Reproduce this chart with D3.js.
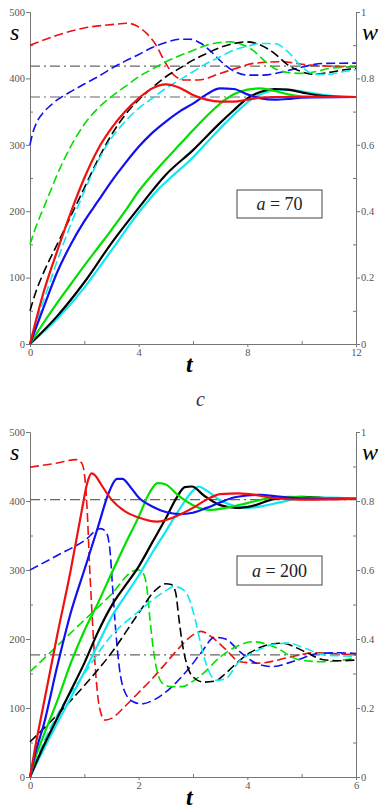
<!DOCTYPE html>
<html>
<head>
<meta charset="utf-8">
<script src="https://cdn.jsdelivr.net/npm/d3@7"></script>
<style>
  body { margin: 0; background: #fff; }
  svg { display: block; }
  svg text { font-family: "Liberation Serif", "Times New Roman", "DejaVu Serif", serif; }
</style>
</head>
<body>
<div id="chart"></div>
<script>
// --------------------------------------
//  Data (s on left axis, w on right axis)
// --------------------------------------

// a = 70
const sLevel70 = 372, wLevel70 = 0.837;
const sRed70   = [[0,0],[0.5,78],[1,140],[1.5,198],[2,250],[2.5,293],[3,325],[3.5,350],[4,370],[4.5,385],[5,391],[5.5,386],[6,375],[6.5,368],[7,365],[7.5,365],[8,368],[8.5,371],[9,372],[10.5,372],[12,372]];
const sBlue70  = [[0,0],[0.5,55],[1,108],[1.5,150],[2,185],[2.5,215],[3,245],[3.5,272],[4,297],[4.5,318],[5,335],[5.5,350],[6,362],[6.5,376],[7,385],[7.5,384],[8,376],[8.5,370],[9,368],[9.5,369],[10,371],[12,372]];
const sGreen70 = [[0,0],[0.5,32],[1,62],[1.5,90],[2,118],[2.5,145],[3,172],[3.5,200],[4,230],[4.5,255],[5,278],[5.5,300],[6,322],[6.5,343],[7,362],[7.5,376],[8,383],[8.5,385],[9,381],[9.5,376],[10,373],[12,372]];
const sBlack70 = [[0,0],[1,42],[2,93],[3,152],[4,205],[5,255],[6,292],[7,333],[7.5,352],[8,370],[8.5,380],[9,384],[9.5,383],[10,379],[10.5,375],[11,373],[12,372]];
const sCyan70  = [[0,0],[1,38],[2,85],[3,141],[4,198],[4.7,232],[5.3,255],[5.9,277],[6.5,303],[7.2,333],[7.7,353],[8.1,367],[8.6,378],[9.2,383],[9.7,382],[10.5,377],[11.3,373],[12,372]];

const wRed70   = [[0,0.9],[1,0.93],[2,0.952],[3,0.962],[3.6,0.966],[4,0.955],[4.3,0.935],[4.6,0.905],[5,0.845],[5.3,0.81],[5.7,0.795],[6.2,0.795],[7,0.815],[7.5,0.828],[8.3,0.846],[9.2,0.85],[10.3,0.84],[12,0.835]];
const wBlue70  = [[0,0.6],[0.1,0.635],[0.25,0.668],[0.5,0.698],[0.75,0.718],[1,0.735],[1.5,0.76],[2,0.783],[2.5,0.805],[3,0.83],[3.5,0.852],[4,0.872],[4.5,0.893],[5,0.908],[5.5,0.918],[5.9,0.918],[6.3,0.905],[6.7,0.878],[7.1,0.846],[7.5,0.822],[8,0.81],[8.6,0.81],[9.2,0.818],[9.8,0.83],[10.8,0.845],[12,0.846]];
const wGreen70 = [[0,0.3],[0.25,0.36],[0.5,0.41],[0.75,0.46],[1,0.51],[1.5,0.595],[2,0.662],[2.5,0.71],[3,0.745],[3.5,0.775],[4,0.805],[4.5,0.828],[5,0.85],[5.5,0.868],[6,0.884],[6.5,0.9],[7,0.908],[7.4,0.91],[7.8,0.902],[8.2,0.885],[8.6,0.855],[9,0.83],[9.5,0.818],[10,0.815],[10.5,0.82],[11,0.83],[12,0.835]];
const wBlack70 = [[0,0.1],[0.25,0.165],[0.5,0.215],[1,0.3],[1.5,0.385],[2,0.47],[2.5,0.555],[3,0.63],[3.5,0.69],[4,0.735],[4.5,0.772],[5,0.805],[5.5,0.83],[6,0.855],[6.5,0.875],[7,0.893],[7.5,0.905],[8,0.91],[8.5,0.9],[9,0.875],[9.5,0.84],[10,0.82],[10.4,0.813],[11,0.818],[11.5,0.825],[12,0.83]];
const wCyan70  = [[0,0],[0.25,0.07],[0.5,0.13],[1,0.25],[1.5,0.36],[2,0.46],[2.5,0.55],[3,0.62],[3.5,0.67],[4,0.71],[4.5,0.74],[5,0.77],[5.5,0.795],[6,0.82],[6.5,0.845],[7,0.865],[7.5,0.885],[8,0.897],[8.5,0.905],[9,0.905],[9.5,0.88],[10,0.835],[10.5,0.812],[11,0.812],[11.5,0.82],[12,0.826]];

// a = 200
const sLevel200 = 402, wLevel200 = 0.354;
const sRed200   = [[0,0],[0.1,45],[0.25,105],[0.5,205],[0.75,300],[0.95,385],[1.05,425],[1.13,440],[1.2,437],[1.3,425],[1.5,402],[1.75,385],[2,376],[2.33,370],[2.75,380],[3,390],[3.25,402],[3.5,410],[3.85,411],[4.2,408],[4.5,404],[5,402],[6,403]];
const sBlue200  = [[0,0],[0.1,35],[0.25,75],[0.5,160],[0.75,238],[1,300],[1.25,362],[1.45,412],[1.6,432],[1.7,432],[1.85,420],[2,405],[2.25,392],[2.5,384],[2.75,381],[3,383],[3.25,390],[3.5,398],[3.75,405],[4,408],[4.25,409],[4.5,407],[5,404],[6,403]];
const sGreen200 = [[0,0],[0.1,28],[0.25,60],[0.5,110],[0.75,165],[1,212],[1.25,252],[1.5,295],[1.75,337],[2,377],[2.2,412],[2.35,426],[2.5,424],[2.7,410],[3,394],[3.3,387],[3.6,390],[4,397],[4.4,404],[4.8,406],[5.2,405],[6,403]];
const sBlack200 = [[0,0],[0.25,45],[0.5,85],[0.75,125],[1,165],[1.25,210],[1.5,248],[1.75,277],[2,305],[2.25,340],[2.5,375],[2.7,405],[2.85,420],[2.98,421],[3.2,408],[3.5,394],[3.8,390],[4.1,393],[4.5,403],[5,406],[5.5,404],[6,403]];
const sCyan200  = [[0,0],[0.25,40],[0.5,78],[0.75,115],[1,152],[1.25,192],[1.5,232],[1.75,262],[2,292],[2.25,325],[2.5,356],[2.75,388],[3,415],[3.1,421],[3.25,415],[3.5,401],[3.75,393],[4,390],[4.3,393],[4.6,398],[5,404],[5.5,405],[6,403]];

const wRed200   = [[0,0.898],[0.5,0.91],[0.85,0.92],[0.95,0.91],[1,0.88],[1.05,0.78],[1.1,0.6],[1.15,0.45],[1.2,0.32],[1.28,0.2],[1.38,0.165],[1.5,0.17],[1.75,0.205],[2,0.245],[2.25,0.285],[2.5,0.33],[2.75,0.375],[3,0.412],[3.15,0.422],[3.35,0.405],[3.6,0.37],[3.85,0.335],[4.2,0.33],[4.8,0.348],[5.2,0.36],[5.6,0.358],[6,0.354]];
const wBlue200  = [[0,0.6],[0.5,0.642],[1,0.685],[1.3,0.72],[1.4,0.71],[1.47,0.66],[1.52,0.55],[1.58,0.42],[1.65,0.31],[1.75,0.245],[1.9,0.218],[2.05,0.212],[2.3,0.225],[2.6,0.26],[2.9,0.31],[3.15,0.36],[3.4,0.405],[3.6,0.4],[3.85,0.365],[4.1,0.335],[4.45,0.32],[4.9,0.338],[5.3,0.358],[5.7,0.36],[6,0.358]];
const wGreen200 = [[0,0.305],[1,0.455],[1.5,0.53],[1.9,0.597],[2,0.6],[2.1,0.585],[2.15,0.55],[2.2,0.47],[2.27,0.37],[2.35,0.3],[2.45,0.27],[2.6,0.262],[2.8,0.262],[3,0.278],[3.2,0.302],[3.5,0.348],[3.8,0.378],[4.1,0.392],[4.5,0.377],[4.95,0.34],[5.4,0.334],[6,0.345]];
const wBlack200 = [[0,0.102],[0.5,0.18],[1,0.265],[1.5,0.36],[2,0.475],[2.3,0.54],[2.5,0.56],[2.6,0.558],[2.68,0.535],[2.74,0.46],[2.8,0.39],[2.88,0.33],[3,0.29],[3.2,0.275],[3.4,0.278],[3.6,0.3],[3.8,0.33],[4.05,0.36],[4.35,0.382],[4.65,0.388],[4.9,0.375],[5.1,0.36],[5.4,0.34],[5.7,0.337],[6,0.339]];
const wCyan200  = [[0,0],[0.25,0.1],[0.5,0.18],[1,0.3],[1.5,0.41],[2,0.48],[2.5,0.54],[2.65,0.552],[2.8,0.545],[2.92,0.52],[3.05,0.45],[3.15,0.38],[3.27,0.315],[3.42,0.28],[3.6,0.285],[3.85,0.335],[4.1,0.36],[4.45,0.383],[4.75,0.388],[5.05,0.374],[5.4,0.354],[6,0.35]];

const sTicks = [0, 100, 200, 300, 400, 500];
const sMinor = [50, 150, 250, 350, 450];
const wTicks = [0, 0.2, 0.4, 0.6, 0.8, 1];
const wMinor = [0.1, 0.3, 0.5, 0.7, 0.9];

const colors = {red: "#f01010", blue: "#1010f0", green: "#00e000", black: "#000000", cyan: "#10e8f0"};

// --------------------------------------
//  Canvas
// --------------------------------------

const width = 389, height = 812;
const svg = d3.select("#chart").append("svg")
    .attr("width", width).attr("height", height)
    .attr("viewBox", `0 0 ${width} ${height}`);

const serif = '"Liberation Serif", "Times New Roman", "DejaVu Serif", serif';

const panels = [
  { tMax: 12, tTicks: [0, 4, 8, 12], tMinor: [2, 6, 10], yBot: 344, yTop: 12,
    sLevel: sLevel70, wLevel: wLevel70, label: "70", box: {x: 237, y: 190, w: 85, h: 28},
    s: [["red", sRed70], ["blue", sBlue70], ["green", sGreen70], ["black", sBlack70], ["cyan", sCyan70]],
    w: [["red", wRed70], ["blue", wBlue70], ["green", wGreen70], ["black", wBlack70], ["cyan", wCyan70]] },
  { tMax: 6, tTicks: [0, 2, 4, 6], tMinor: [1, 3, 5], yBot: 777, yTop: 432,
    sLevel: sLevel200, wLevel: wLevel200, label: "200", box: {x: 237, y: 556, w: 85, h: 29},
    s: [["red", sRed200], ["blue", sBlue200], ["green", sGreen200], ["black", sBlack200], ["cyan", sCyan200]],
    w: [["red", wRed200], ["blue", wBlue200], ["green", wGreen200], ["black", wBlack200], ["cyan", wCyan200]] }
];

function styleAxis(sel) {
  sel.attr("font-family", null).attr("font-size", 10.5);
  sel.selectAll("text").style("font-family", serif).attr("fill", "#555");
  sel.selectAll("line").attr("stroke", "#777");
  sel.select(".domain").attr("stroke", "#777");
}

function drawPanel(p) {
  const g = svg.append("g");

  const x = d3.scaleLinear().domain([0, p.tMax]).range([30, 356]);
  const yS = d3.scaleLinear().domain([0, 500]).range([p.yBot, p.yTop]);
  const yW = d3.scaleLinear().domain([0, 1]).range([p.yBot, p.yTop]);

  // axes
  g.append("g").attr("transform", `translate(30,0)`)
    .call(d3.axisLeft(yS).tickValues(sTicks).tickSize(4).tickSizeOuter(0).tickPadding(1))
    .call(styleAxis);
  g.append("g").attr("transform", `translate(30,0)`)
    .call(d3.axisLeft(yS).tickValues(sMinor).tickSize(-3).tickSizeOuter(0).tickFormat(""))
    .call(styleAxis);

  g.append("g").attr("transform", `translate(356,0)`)
    .call(d3.axisRight(yW).tickValues(wTicks).tickSize(4).tickSizeOuter(0).tickPadding(1)
      .tickFormat(d => (d === 0 || d === 1) ? d3.format("d")(d) : d3.format(".1f")(d)))
    .call(styleAxis);
  g.append("g").attr("transform", `translate(356,0)`)
    .call(d3.axisRight(yW).tickValues(wMinor).tickSize(-3).tickSizeOuter(0).tickFormat(""))
    .call(styleAxis);

  g.append("g").attr("transform", `translate(0,${p.yBot})`)
    .call(d3.axisBottom(x).tickValues(p.tTicks).tickSize(3).tickSizeOuter(0).tickPadding(2)
      .tickFormat(d3.format("d")))
    .call(styleAxis);
  g.append("g").attr("transform", `translate(0,${p.yBot})`)
    .call(d3.axisBottom(x).tickValues(p.tMinor).tickSize(-3).tickSizeOuter(0).tickFormat(""))
    .call(styleAxis);

  // steady levels
  [yS(p.sLevel), yW(p.wLevel)].forEach(yy => {
    g.append("line")
      .attr("x1", x(0)).attr("x2", x(p.tMax))
      .attr("y1", yy).attr("y2", yy)
      .attr("stroke", "#666").attr("stroke-width", 1.2)
      .attr("stroke-dasharray", "10,4,2,4");
  });

  const lineS = d3.line().x(d => x(d[0])).y(d => yS(d[1])).curve(d3.curveMonotoneX);
  const lineW = d3.line().x(d => x(d[0])).y(d => yW(d[1])).curve(d3.curveMonotoneX);

  // w (dashed)
  g.append("g").selectAll("path")
    .data(p.w)
    .join("path")
    .attr("d", d => lineW(d[1]))
    .attr("fill", "none")
    .attr("stroke", d => colors[d[0]])
    .attr("stroke-width", 1.6)
    .attr("stroke-dasharray", "9,4");

  // s (solid)
  g.append("g").selectAll("path")
    .data(p.s.slice().reverse())
    .join("path")
    .attr("d", d => lineS(d[1]))
    .attr("fill", "none")
    .attr("stroke", d => colors[d[0]])
    .attr("stroke-width", 2.2);

  // axis letters
  g.append("text").attr("x", 10).attr("y", p.yTop + 28)
    .style("font-family", serif).attr("font-style", "italic").attr("font-size", 24)
    .text("s");
  g.append("text").attr("x", 362).attr("y", p.yTop + 28)
    .style("font-family", serif).attr("font-style", "italic").attr("font-size", 24)
    .text("w");
  g.append("text").attr("x", 186).attr("y", p.yBot + 28)
    .style("font-family", serif).attr("font-style", "italic").attr("font-weight", "bold").attr("font-size", 24)
    .text("t");

  // legend box
  g.append("rect")
    .attr("x", p.box.x).attr("y", p.box.y).attr("width", p.box.w).attr("height", p.box.h)
    .attr("fill", "#fff").attr("stroke", "#444").attr("stroke-width", 1);
  const lt = g.append("text")
    .attr("x", p.box.x + p.box.w / 2).attr("y", p.box.y + p.box.h / 2 + 6)
    .attr("text-anchor", "middle")
    .style("font-family", serif).attr("font-size", 18).attr("fill", "#222");
  lt.append("tspan").attr("font-style", "italic").text("a");
  lt.append("tspan").text(" = " + p.label);
}

panels.forEach(drawPanel);

// caption between the panels
svg.append("text").attr("x", 196).attr("y", 406)
  .style("font-family", serif).attr("font-style", "italic").attr("font-size", 20).attr("fill", "#333")
  .text("c");
</script>
</body>
</html>
